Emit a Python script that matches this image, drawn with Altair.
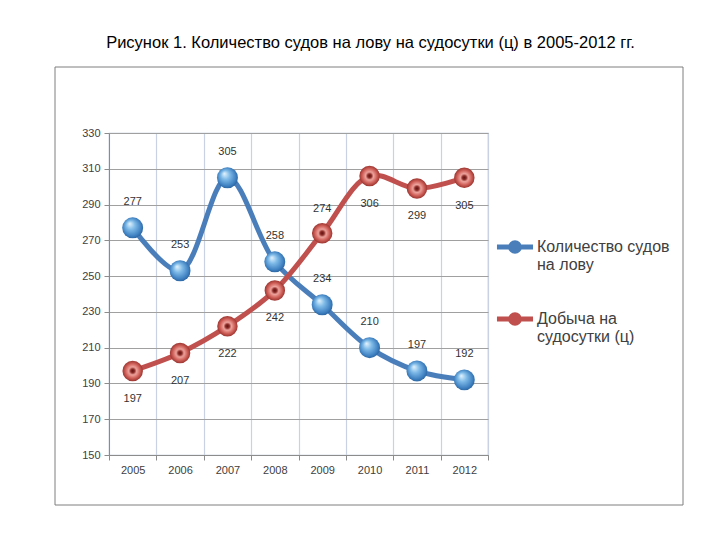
import altair as alt
import pandas as pd

years = ["2005", "2006", "2007", "2008", "2009", "2010", "2011", "2012"]
ships = [277, 253, 305, 258, 234, 210, 197, 192]
catch = [197, 207, 222, 242, 274, 306, 299, 305]
s_ships = "Количество судов на лову"
s_catch = "Добыча на судосутки (ц)"
y_ticks = list(range(150, 331, 20))

rows = []
for y, a, b in zip(years, ships, catch):
    rows.append({"year": y, "series": s_ships, "value": a})
    rows.append({"year": y, "series": s_catch, "value": b})
df = pd.DataFrame(rows)

FONT = "Liberation Sans"
W, H = 379, 322

x_enc = alt.X("year:N", sort=years, title=None,
              scale=alt.Scale(paddingInner=0, paddingOuter=0),
              axis=alt.Axis(labelAngle=0, tickBand="extent", grid=True,
                            gridColor="#c8d2e2", gridWidth=1.2,
                            domainColor="#8c8c8c", tickColor="#8c8c8c",
                            tickSize=5, labelPadding=4, labelFontSize=11,
                            labelColor="#404040", labelFont=FONT))
y_enc = alt.Y("value:Q", title=None,
              scale=alt.Scale(domain=[150, 330], nice=False, zero=False),
              axis=alt.Axis(values=y_ticks, grid=True, gridColor="#a0a0a0",
                            gridWidth=1.2, domainColor="#8c8c8c",
                            tickColor="#8c8c8c", tickSize=5, labelPadding=4,
                            labelFontSize=11, labelColor="#404040",
                            labelFont=FONT))

base = alt.Chart(df)

frame = alt.Chart(alt.Data(values=[{"k": 1}])).mark_rect(
    fill="white", fillOpacity=0, stroke="#7f7f7f", strokeWidth=1
).encode(x=alt.value(-54), x2=alt.value(574), y=alt.value(-66), y2=alt.value(372))

sym_path = "M-1,0L1,0M-0.24,0A0.24,0.24,0,1,1,0.24,0A0.24,0.24,0,1,1,-0.24,0"
label_expr = ("datum.label == '" + s_ships + "' ? ['Количество судов', 'на лову']"
              " : ['Добыча на', 'судосутки (ц)']")

lines = base.mark_line(interpolate="catmull-rom", strokeWidth=5).encode(
    x=x_enc, y=y_enc,
    color=alt.Color("series:N", sort=[s_ships, s_catch],
                    scale=alt.Scale(domain=[s_ships, s_catch],
                                    range=["#4a7ebb", "#c0504d"]),
                    legend=alt.Legend(title=None, orient="none",
                                      legendX=385, legendY=93,
                                      symbolType=sym_path, symbolSize=1300,
                                      symbolStrokeWidth=5,
                                      labelFontSize=16, labelFont=FONT,
                                      labelColor="#404040", labelLimit=300,
                                      labelExpr=label_expr,
                                      rowPadding=25, labelOffset=1)),
)

blue_grad = alt.Gradient(gradient="radial",
                         stops=[alt.GradientStop(color="#e6f4fd", offset=0),
                                alt.GradientStop(color="#7fbbe8", offset=0.35),
                                alt.GradientStop(color="#3d7fc0", offset=0.75),
                                alt.GradientStop(color="#1d4f86", offset=1)],
                         x1=0.35, y1=0.3, x2=0.5, y2=0.5, r1=0, r2=0.6)
red_grad = alt.Gradient(gradient="radial",
                        stops=[alt.GradientStop(color="#5e1210", offset=0),
                               alt.GradientStop(color="#8e2c28", offset=0.18),
                               alt.GradientStop(color="#eea59e", offset=0.35),
                               alt.GradientStop(color="#cf5f58", offset=0.65),
                               alt.GradientStop(color="#8a2622", offset=1)],
                        x1=0.5, y1=0.5, x2=0.5, y2=0.5, r1=0, r2=0.55)

pts_blue = base.transform_filter(alt.datum.series == s_ships).mark_point(
    filled=True, size=440, fill=blue_grad, opacity=1, strokeWidth=0
).encode(x=x_enc, y=y_enc)
pts_red = base.transform_filter(alt.datum.series == s_catch).mark_point(
    filled=True, size=420, fill=red_grad, opacity=1, strokeWidth=0
).encode(x=x_enc, y=y_enc)

lab_kw = dict(fontSize=11, font=FONT, color="#333333")
lab_blue = base.transform_filter(alt.datum.series == s_ships).mark_text(
    dy=-26, **lab_kw).encode(x=x_enc, y=y_enc, text="value:Q")
lab_red_below = base.transform_filter(
    (alt.datum.series == s_catch) & (alt.datum.year != "2009")
).mark_text(dy=28, **lab_kw).encode(x=x_enc, y=y_enc, text="value:Q")
lab_red_above = base.transform_filter(
    (alt.datum.series == s_catch) & (alt.datum.year == "2009")
).mark_text(dy=-24, **lab_kw).encode(x=x_enc, y=y_enc, text="value:Q")

chart = alt.layer(frame, lines, pts_blue, pts_red, lab_blue, lab_red_below,
                  lab_red_above).properties(
    width=W, height=H,
    autosize=alt.AutoSizeParams(type="none"),
    padding={"left": 101, "top": 125, "right": 224, "bottom": 77},
    title=alt.TitleParams(
        "Рисунок 1. Количество судов на лову на судосутки (ц) в 2005-2012 гг.",
        fontSize=16.5, font=FONT, fontWeight="normal", color="black",
        offset=15, dx=72, anchor="middle", frame="group"),
).configure_view(stroke="#b8c2d4", strokeWidth=1.2)

chart.save("out.html", embed_options={"renderer": "svg", "actions": False})
